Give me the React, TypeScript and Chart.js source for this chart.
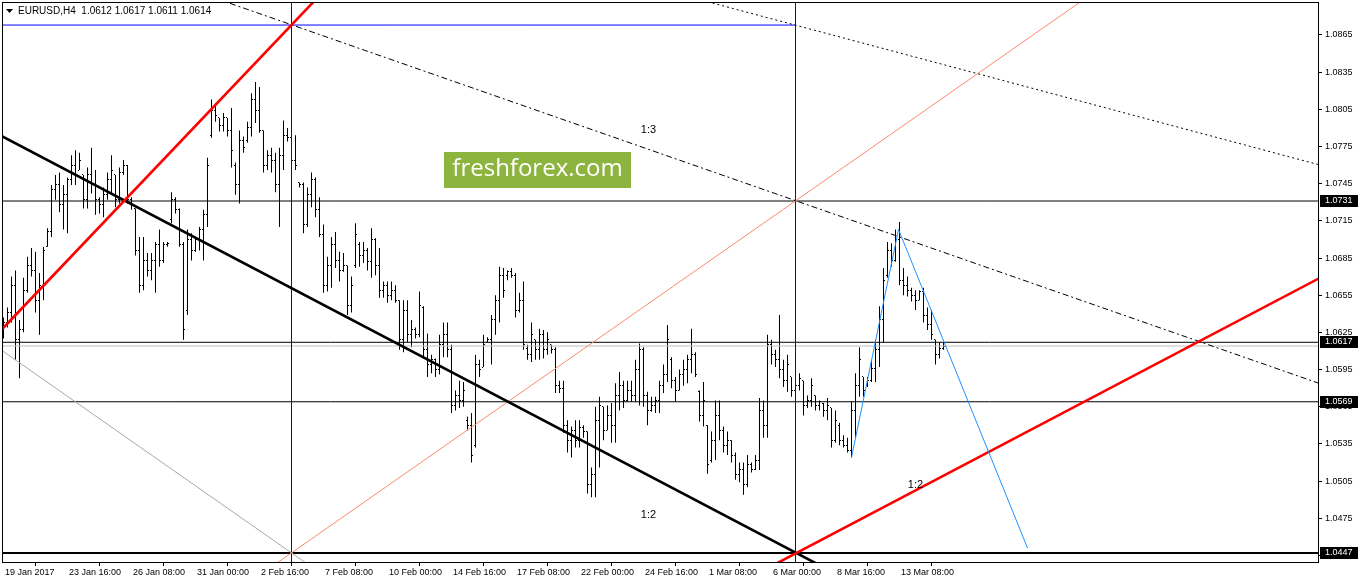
import React, { useEffect, useRef } from 'react';
import { Chart, registerables } from 'chart.js';

Chart.register(...registerables);

// ---------------- data ----------------
const symbolName = 'EURUSD,H4';
const lastBarOHLC = ['1.0612', '1.0617', '1.0611', '1.0614'];

const timeTickBars = [0, 16, 32, 48, 64, 80, 96, 112, 128, 144, 160, 176, 192, 208, 224];
const timeTickLabels = [
  '19 Jan 2017', '23 Jan 16:00', '26 Jan 08:00', '31 Jan 00:00', '2 Feb 16:00',
  '7 Feb 08:00', '10 Feb 00:00', '14 Feb 16:00', '17 Feb 08:00', '22 Feb 00:00',
  '24 Feb 16:00', '1 Mar 08:00', '6 Mar 00:00', '8 Mar 16:00', '13 Mar 08:00',
];
const priceTicks = [
  1.0445, 1.0475, 1.0505, 1.0535, 1.0565, 1.0595, 1.0625, 1.0655,
  1.0685, 1.0715, 1.0745, 1.0775, 1.0805, 1.0835, 1.0865,
];

const opens = [
  1.0623, 1.0633, 1.0641, 1.0663, 1.0619, 1.0627, 1.0659, 1.0679, 1.0675, 1.0651,
  1.0663, 1.0694, 1.0706, 1.0740, 1.0744, 1.0728, 1.0736, 1.0748, 1.0760, 1.0756,
  1.0752, 1.0732, 1.0752, 1.0744, 1.0732, 1.0728, 1.0736, 1.0748, 1.0752, 1.0732,
  1.0754, 1.0760, 1.0732, 1.0725, 1.0691, 1.0663, 1.0683, 1.0675, 1.0683, 1.0696,
  1.0683, 1.0696, 1.0716, 1.0732, 1.0724, 1.0696, 1.0643, 1.0700, 1.0691, 1.0700,
  1.0708, 1.0720, 1.0784, 1.0804, 1.0798, 1.0792, 1.0798, 1.0788, 1.0760, 1.0744,
  1.0780, 1.0780, 1.0790, 1.0813, 1.0804, 1.0788, 1.0760, 1.0768, 1.0764, 1.0744,
  1.0768, 1.0784, 1.0782, 1.0764, 1.0746, 1.0744, 1.0712, 1.0736, 1.0748, 1.0724,
  1.0704, 1.0663, 1.0679, 1.0696, 1.0683, 1.0675, 1.0679, 1.0647, 1.0679, 1.0696,
  1.0687, 1.0691, 1.0682, 1.0700, 1.0679, 1.0659, 1.0663, 1.0655, 1.0659, 1.0651,
  1.0619, 1.0643, 1.0623, 1.0627, 1.0623, 1.0645, 1.0611, 1.0599, 1.0603, 1.0595,
  1.0615, 1.0623, 1.0611, 1.0566, 1.0574, 1.0570, 1.0554, 1.0550, 1.0534, 1.0599,
  1.0597, 1.0617, 1.0619, 1.0635, 1.0651, 1.0671, 1.0671, 1.0674, 1.0671, 1.0643,
  1.0651, 1.0612, 1.0607, 1.0619, 1.0611, 1.0623, 1.0611, 1.0615, 1.0611, 1.0582,
  1.0580, 1.0550, 1.0538, 1.0546, 1.0538, 1.0548, 1.0545, 1.0502, 1.0510, 1.0554,
  1.0565, 1.0546, 1.0558, 1.0550, 1.0574, 1.0582, 1.0570, 1.0578, 1.0574, 1.0595,
  1.0611, 1.0574, 1.0562, 1.0566, 1.0570, 1.0582, 1.0591, 1.0603, 1.0586, 1.0578,
  1.0591, 1.0595, 1.0603, 1.0607, 1.0577, 1.0558, 1.0550, 1.0522, 1.0538, 1.0558,
  1.0546, 1.0534, 1.0538, 1.0526, 1.0510, 1.0514, 1.0502, 1.0518, 1.0514, 1.0522,
  1.0562, 1.0550, 1.0615, 1.0607, 1.0603, 1.0595, 1.0586, 1.0589, 1.0578, 1.0582,
  1.0586, 1.0566, 1.0570, 1.0574, 1.0566, 1.0568, 1.0562, 1.0564, 1.0538, 1.0550,
  1.0538, 1.0534, 1.0530, 1.0562, 1.0582, 1.0589, 1.0582, 1.0586, 1.0596, 1.0611,
  1.0635, 1.0671, 1.0691, 1.0683, 1.0700, 1.0667, 1.0663, 1.0659, 1.0655, 1.0651,
  1.0658, 1.0639, 1.0631, 1.0619, 1.0607, 1.0612,
];
const highs = [
  1.0637, 1.0645, 1.0670, 1.0675, 1.0635, 1.0669, 1.0686, 1.0693, 1.0690, 1.0673,
  1.0694, 1.0709, 1.0744, 1.0752, 1.0754, 1.0744, 1.0750, 1.0768, 1.0772, 1.0770,
  1.0752, 1.0758, 1.0774, 1.0756, 1.0734, 1.0742, 1.0754, 1.0768, 1.0752, 1.0758,
  1.0764, 1.0760, 1.0734, 1.0725, 1.0702, 1.0702, 1.0689, 1.0689, 1.0698, 1.0708,
  1.0698, 1.0698, 1.0738, 1.0734, 1.0725, 1.0698, 1.0708, 1.0705, 1.0702, 1.0710,
  1.0724, 1.0766, 1.0813, 1.0810, 1.0798, 1.0802, 1.0798, 1.0806, 1.0762, 1.0788,
  1.0783, 1.0795, 1.0818, 1.0827, 1.0823, 1.0788, 1.0772, 1.0774, 1.0770, 1.0774,
  1.0796, 1.0790, 1.0791, 1.0784, 1.0746, 1.0746, 1.0742, 1.0754, 1.0750, 1.0734,
  1.0712, 1.0686, 1.0702, 1.0706, 1.0690, 1.0689, 1.0679, 1.0670, 1.0713, 1.0698,
  1.0698, 1.0693, 1.0709, 1.0701, 1.0693, 1.0666, 1.0666, 1.0666, 1.0663, 1.0651,
  1.0651, 1.0651, 1.0635, 1.0629, 1.0658, 1.0646, 1.0624, 1.0607, 1.0604, 1.0623,
  1.0633, 1.0633, 1.0615, 1.0578, 1.0586, 1.0585, 1.0557, 1.0560, 1.0607, 1.0603,
  1.0623, 1.0621, 1.0639, 1.0655, 1.0678, 1.0677, 1.0675, 1.0677, 1.0673, 1.0657,
  1.0666, 1.0615, 1.0633, 1.0619, 1.0628, 1.0627, 1.0625, 1.0615, 1.0613, 1.0586,
  1.0586, 1.0554, 1.0549, 1.0554, 1.0554, 1.0550, 1.0545, 1.0516, 1.0565, 1.0573,
  1.0565, 1.0566, 1.0568, 1.0584, 1.0593, 1.0586, 1.0586, 1.0586, 1.0603, 1.0616,
  1.0613, 1.0577, 1.0573, 1.0573, 1.0586, 1.0599, 1.0631, 1.0605, 1.0589, 1.0595,
  1.0603, 1.0607, 1.0628, 1.0609, 1.0578, 1.0585, 1.0550, 1.0545, 1.0570, 1.0570,
  1.0549, 1.0545, 1.0538, 1.0528, 1.0520, 1.0520, 1.0526, 1.0520, 1.0526, 1.0572,
  1.0570, 1.0623, 1.0619, 1.0611, 1.0639, 1.0603, 1.0607, 1.0589, 1.0584, 1.0592,
  1.0586, 1.0574, 1.0588, 1.0574, 1.0570, 1.0568, 1.0572, 1.0564, 1.0562, 1.0552,
  1.0542, 1.0540, 1.0569, 1.0592, 1.0613, 1.0589, 1.0589, 1.0603, 1.0619, 1.0646,
  1.0677, 1.0698, 1.0697, 1.0708, 1.0714, 1.0677, 1.0670, 1.0661, 1.0659, 1.0659,
  1.0661, 1.0645, 1.0643, 1.0619, 1.0617, 1.0617,
];
const lows = [
  1.0620, 1.0629, 1.0633, 1.0603, 1.0588, 1.0625, 1.0657, 1.0670, 1.0641, 1.0623,
  1.0651, 1.0694, 1.0702, 1.0732, 1.0722, 1.0708, 1.0705, 1.0744, 1.0744, 1.0756,
  1.0725, 1.0725, 1.0737, 1.0720, 1.0721, 1.0718, 1.0732, 1.0736, 1.0726, 1.0729,
  1.0752, 1.0729, 1.0724, 1.0687, 1.0657, 1.0659, 1.0670, 1.0667, 1.0657, 1.0678,
  1.0681, 1.0694, 1.0713, 1.0721, 1.0694, 1.0619, 1.0639, 1.0683, 1.0690, 1.0691,
  1.0683, 1.0710, 1.0782, 1.0795, 1.0787, 1.0787, 1.0783, 1.0758, 1.0736, 1.0729,
  1.0770, 1.0778, 1.0783, 1.0794, 1.0786, 1.0754, 1.0756, 1.0754, 1.0738, 1.0710,
  1.0756, 1.0779, 1.0758, 1.0756, 1.0742, 1.0705, 1.0710, 1.0726, 1.0718, 1.0702,
  1.0657, 1.0658, 1.0661, 1.0677, 1.0666, 1.0674, 1.0639, 1.0641, 1.0677, 1.0678,
  1.0681, 1.0675, 1.0669, 1.0671, 1.0653, 1.0653, 1.0649, 1.0651, 1.0649, 1.0611,
  1.0609, 1.0617, 1.0613, 1.0620, 1.0621, 1.0605, 1.0589, 1.0592, 1.0589, 1.0591,
  1.0605, 1.0605, 1.0560, 1.0562, 1.0564, 1.0565, 1.0546, 1.0520, 1.0532, 1.0589,
  1.0597, 1.0617, 1.0599, 1.0623, 1.0633, 1.0653, 1.0667, 1.0669, 1.0637, 1.0641,
  1.0611, 1.0603, 1.0601, 1.0603, 1.0603, 1.0604, 1.0607, 1.0608, 1.0576, 1.0576,
  1.0544, 1.0528, 1.0524, 1.0532, 1.0532, 1.0540, 1.0495, 1.0492, 1.0492, 1.0516,
  1.0538, 1.0546, 1.0536, 1.0536, 1.0562, 1.0564, 1.0569, 1.0569, 1.0569, 1.0566,
  1.0565, 1.0550, 1.0561, 1.0560, 1.0560, 1.0576, 1.0585, 1.0580, 1.0569, 1.0578,
  1.0582, 1.0584, 1.0592, 1.0589, 1.0553, 1.0549, 1.0511, 1.0520, 1.0522, 1.0538,
  1.0528, 1.0526, 1.0520, 1.0506, 1.0504, 1.0494, 1.0500, 1.0512, 1.0514, 1.0514,
  1.0540, 1.0540, 1.0599, 1.0597, 1.0588, 1.0581, 1.0577, 1.0573, 1.0570, 1.0578,
  1.0558, 1.0564, 1.0565, 1.0562, 1.0562, 1.0557, 1.0554, 1.0532, 1.0536, 1.0534,
  1.0532, 1.0528, 1.0524, 1.0540, 1.0573, 1.0573, 1.0581, 1.0585, 1.0585, 1.0597,
  1.0617, 1.0669, 1.0678, 1.0682, 1.0663, 1.0655, 1.0654, 1.0650, 1.0643, 1.0651,
  1.0633, 1.0627, 1.0619, 1.0599, 1.0604, 1.0611,
];
const closes = [
  1.0633, 1.0641, 1.0663, 1.0619, 1.0627, 1.0659, 1.0679, 1.0675, 1.0651, 1.0663,
  1.0691, 1.0706, 1.0740, 1.0744, 1.0728, 1.0736, 1.0748, 1.0760, 1.0752, 1.0764,
  1.0732, 1.0752, 1.0744, 1.0732, 1.0728, 1.0736, 1.0748, 1.0756, 1.0732, 1.0754,
  1.0760, 1.0732, 1.0728, 1.0691, 1.0663, 1.0683, 1.0675, 1.0683, 1.0696, 1.0683,
  1.0696, 1.0697, 1.0732, 1.0724, 1.0696, 1.0627, 1.0700, 1.0691, 1.0700, 1.0708,
  1.0720, 1.0760, 1.0804, 1.0800, 1.0792, 1.0798, 1.0788, 1.0772, 1.0744, 1.0780,
  1.0774, 1.0790, 1.0813, 1.0804, 1.0788, 1.0760, 1.0768, 1.0764, 1.0744, 1.0768,
  1.0784, 1.0782, 1.0764, 1.0760, 1.0744, 1.0712, 1.0736, 1.0748, 1.0724, 1.0704,
  1.0663, 1.0679, 1.0696, 1.0683, 1.0675, 1.0679, 1.0647, 1.0663, 1.0704, 1.0687,
  1.0691, 1.0682, 1.0700, 1.0679, 1.0659, 1.0663, 1.0655, 1.0659, 1.0651, 1.0619,
  1.0643, 1.0623, 1.0627, 1.0623, 1.0647, 1.0611, 1.0599, 1.0603, 1.0595, 1.0615,
  1.0623, 1.0611, 1.0566, 1.0574, 1.0570, 1.0578, 1.0550, 1.0526, 1.0599, 1.0595,
  1.0615, 1.0619, 1.0635, 1.0651, 1.0671, 1.0659, 1.0674, 1.0671, 1.0643, 1.0651,
  1.0615, 1.0607, 1.0623, 1.0611, 1.0623, 1.0611, 1.0619, 1.0611, 1.0582, 1.0580,
  1.0550, 1.0538, 1.0546, 1.0538, 1.0548, 1.0545, 1.0502, 1.0510, 1.0554, 1.0566,
  1.0546, 1.0558, 1.0550, 1.0574, 1.0582, 1.0570, 1.0578, 1.0574, 1.0595, 1.0611,
  1.0574, 1.0562, 1.0566, 1.0570, 1.0582, 1.0591, 1.0619, 1.0586, 1.0578, 1.0591,
  1.0595, 1.0603, 1.0607, 1.0591, 1.0558, 1.0570, 1.0518, 1.0538, 1.0558, 1.0546,
  1.0534, 1.0538, 1.0526, 1.0510, 1.0514, 1.0502, 1.0518, 1.0514, 1.0522, 1.0562,
  1.0550, 1.0615, 1.0607, 1.0603, 1.0595, 1.0586, 1.0599, 1.0578, 1.0582, 1.0588,
  1.0566, 1.0570, 1.0582, 1.0566, 1.0569, 1.0562, 1.0566, 1.0538, 1.0554, 1.0538,
  1.0534, 1.0530, 1.0562, 1.0582, 1.0603, 1.0578, 1.0586, 1.0596, 1.0611, 1.0635,
  1.0667, 1.0691, 1.0683, 1.0700, 1.0667, 1.0663, 1.0659, 1.0655, 1.0651, 1.0658,
  1.0639, 1.0631, 1.0623, 1.0607, 1.0612, 1.0614,
];

// horizontal levels (price), vertical lines (bar index)
const bidPrice = 1.0614;
const thinLevels = [1.0731, 1.0617, 1.0569];
const thickLevel = 1.0447;
const markedLevels = [1.0731, 1.0617, 1.0569, 1.0447];
const topGridPrice = 1.0873;
const topGridEndBar = 198;
const verticalBars = [72, 198];

// drawn objects: points as (bar index, price)
const redRiseLine = [{ x: -2, y: 1.0622 }, { x: 82, y: 1.0907 }];
const blackFallLine = [{ x: -2, y: 1.0786 }, { x: 210, y: 1.0427 }];
const redSupportLine = [{ x: 190, y: 1.0433 }, { x: 335, y: 1.0679 }];
const dashDotLine = [{ x: 50, y: 1.0898 }, { x: 335, y: 1.0577 }];
const dottedLine = [{ x: 170, y: 1.0897 }, { x: 335, y: 1.0755 }];
const orangeLine = [{ x: 60, y: 1.0420 }, { x: 280, y: 1.0916 }];
const greyLine = [{ x: -2, y: 1.0614 }, { x: 80, y: 1.0429 }];
const blueWave = [{ x: 212, y: 1.0524 }, { x: 223.75, y: 1.0708 }, { x: 256, y: 1.0451 }];

const fanLabels = [
  { text: '1:3', bar: 161.25, price: 1.0788 },
  { text: '1:2', bar: 161.25, price: 1.0478 },
  { text: '1:2', bar: 228, price: 1.0502 },
];

// ---------------- rendering ----------------
const AXIS_FONT = '"Liberation Sans", Arial, sans-serif';

const chromePlugin = {
  id: 'mt4chrome',
  beforeDatasetsDraw(chart: any) {
    const ctx = chart.ctx;
    ctx.save();
    ctx.fillStyle = '#8db43e';
    ctx.fillRect(444, 152, 187, 36);
    ctx.fillStyle = '#ffffff';
    ctx.font = '24px "Open Sans", "DejaVu Sans", sans-serif';
    ctx.textAlign = 'center';
    ctx.textBaseline = 'middle';
    ctx.fillText('freshforex.com', 537.5, 169);
    ctx.restore();
    ctx.imageSmoothingEnabled = false;
  },
  afterDatasetsDraw(chart: any) {
    const ctx = chart.ctx;
    ctx.imageSmoothingEnabled = true;
    const xs = chart.scales.x;
    const ys = chart.scales.y;
    ctx.save();
    ctx.fillStyle = '#000';
    ctx.font = '11px ' + AXIS_FONT;
    ctx.textAlign = 'center';
    ctx.textBaseline = 'middle';
    fanLabels.forEach((l) => {
      ctx.fillText(l.text, xs.getPixelForValue(l.bar), ys.getPixelForValue(l.price));
    });
    ctx.restore();
  },
  afterDraw(chart: any) {
    const ctx = chart.ctx;
    const a = chart.chartArea;
    const ys = chart.scales.y;
    ctx.save();
    // frame
    ctx.strokeStyle = '#000';
    ctx.lineWidth = 1;
    ctx.strokeRect(a.left + 0.5, a.top + 0.5, a.right - a.left, a.bottom - a.top);
    // marked price boxes
    ctx.font = '9px ' + AXIS_FONT;
    ctx.textBaseline = 'middle';
    ctx.textAlign = 'left';
    markedLevels.forEach((v) => {
      const y = Math.round(ys.getPixelForValue(v));
      ctx.fillStyle = '#000';
      ctx.fillRect(a.right + 2, y - 6, 38, 12);
      ctx.fillStyle = '#fff';
      ctx.fillText(v.toFixed(4), a.right + 7, y);
    });
    // header
    ctx.fillStyle = '#000';
    ctx.beginPath();
    ctx.moveTo(a.left + 4, a.top + 7);
    ctx.lineTo(a.left + 11, a.top + 7);
    ctx.lineTo(a.left + 7.5, a.top + 11);
    ctx.closePath();
    ctx.fill();
    ctx.font = '10px ' + AXIS_FONT;
    ctx.fillText(symbolName + '  ' + lastBarOHLC.join(' '), a.left + 16, a.top + 9);
    ctx.restore();
  },
};

function lineDs(data: any[], color: string, width: number, dash: number[] = []) {
  return {
    type: 'line',
    data,
    borderColor: color,
    backgroundColor: color,
    borderWidth: width,
    borderDash: dash,
    pointRadius: 0,
    fill: false,
    tension: 0,
    clip: 0,
    order: 0,
  };
}

function hLine(price: number, fromBar: number, toBar: number) {
  return [{ x: fromBar, y: price }, { x: toBar, y: price }];
}
function vLine(bar: number) {
  return [{ x: bar, y: 1.03 }, { x: bar, y: 1.10 }];
}

export default function App() {
  const ref = useRef<HTMLCanvasElement>(null);

  useEffect(() => {
    document.body.style.margin = '0';
    const canvas = ref.current;
    if (!canvas) return;

    const openImg = document.createElement('canvas');
    openImg.width = 3;
    openImg.height = 1;
    const oc = openImg.getContext('2d')!;
    oc.fillStyle = '#000';
    oc.fillRect(0, 0, 1, 1);
    const closeImg = document.createElement('canvas');
    closeImg.width = 3;
    closeImg.height = 1;
    const cc = closeImg.getContext('2d')!;
    cc.fillStyle = '#000';
    cc.fillRect(2, 0, 1, 1);

    const idx = opens.map((_, i) => i);

    const datasets: any[] = [
      lineDs(blueWave, '#1e90ff', 1),
      lineDs(redRiseLine, '#ff0000', 2.6),
      lineDs(redSupportLine, '#ff0000', 2.6),
      lineDs(blackFallLine, '#000000', 2.6),
      lineDs(dashDotLine, '#000000', 1, [6, 3, 2, 3]),
      lineDs(dottedLine, '#000000', 1, [2, 3]),
      lineDs(orangeLine, '#fa8a6e', 1),
      lineDs(greyLine, '#a8a8a8', 1),
      ...verticalBars.map((b) => lineDs(vLine(b), '#0000ff', 1)),
      lineDs(hLine(topGridPrice, -2, topGridEndBar), '#0000ff', 1),
      ...thinLevels.map((p) => lineDs(hLine(p, -2, 335), '#000000', 1)),
      lineDs(hLine(thickLevel, -2, 335), '#000000', 2),
      lineDs(hLine(bidPrice, -2, 335), '#c0c0c0', 1),
      {
        type: 'scatter',
        data: idx.map((i) => ({ x: i, y: opens[i] })),
        pointStyle: openImg,
        pointRadius: 1,
        order: 9,
      },
      {
        type: 'scatter',
        data: idx.map((i) => ({ x: i, y: closes[i] })),
        pointStyle: closeImg,
        pointRadius: 1,
        order: 9,
      },
      {
        type: 'bar',
        data: idx.map((i) => ({ x: i, y: [lows[i], highs[i]] })),
        backgroundColor: '#000000',
        borderWidth: 0,
        barThickness: 1,
        inflateAmount: 0,
        order: 10,
      },
    ];

    const font = { family: AXIS_FONT, size: 9 };
    const zeroPad = (s: any) => {
      s.paddingLeft = 0;
      s.paddingRight = 0;
      s.paddingTop = 0;
      s.paddingBottom = 0;
    };

    const chart = new Chart(canvas, {
      type: 'scatter',
      data: { datasets },
      options: {
        responsive: false,
        animation: false,
        devicePixelRatio: 1,
        events: [],
        layout: { autoPadding: false, padding: { left: 2, top: 2, right: 0, bottom: 0 } },
        plugins: {
          legend: { display: false },
          tooltip: { enabled: false },
          title: { display: false },
        },
        scales: {
          x: {
            type: 'linear',
            position: 'bottom',
            min: -0.375,
            max: 328.625,
            offset: false,
            afterBuildTicks: (s: any) => {
              s.ticks = timeTickBars.map((v) => ({ value: v }));
            },
            afterFit: (s: any) => {
              s.height = 22;
              zeroPad(s);
            },
            grid: {
              display: true,
              drawOnChartArea: false,
              drawTicks: true,
              tickLength: 4,
              color: '#000',
              lineWidth: 1,
            },
            border: { display: false },
            ticks: {
              autoSkip: false,
              maxRotation: 0,
              minRotation: 0,
              align: 'start',
              labelOffset: 1.5,
              padding: 1,
              color: '#000',
              font,
              callback: (_v: any, i: number) => timeTickLabels[i] ?? '',
            },
          },
          y: {
            type: 'linear',
            position: 'right',
            min: 1.04397,
            max: 1.08916,
            afterBuildTicks: (s: any) => {
              s.ticks = priceTicks.map((v) => ({ value: v }));
            },
            afterFit: (s: any) => {
              s.width = 40;
              zeroPad(s);
            },
            grid: {
              display: true,
              drawOnChartArea: false,
              drawTicks: true,
              tickLength: 4,
              color: '#000',
              lineWidth: 1,
            },
            border: { display: false },
            ticks: {
              autoSkip: false,
              padding: 3,
              color: '#000',
              font,
              callback: (v: any) => Number(v).toFixed(4),
            },
          },
        },
      } as any,
      plugins: [chromePlugin],
    } as any);

    return () => {
      chart.destroy();
    };
  }, []);

  return (
    <div style={{ width: 1358, height: 584, background: '#fff' }}>
      <canvas ref={ref} width={1358} height={584} style={{ display: 'block' }} />
    </div>
  );
}
